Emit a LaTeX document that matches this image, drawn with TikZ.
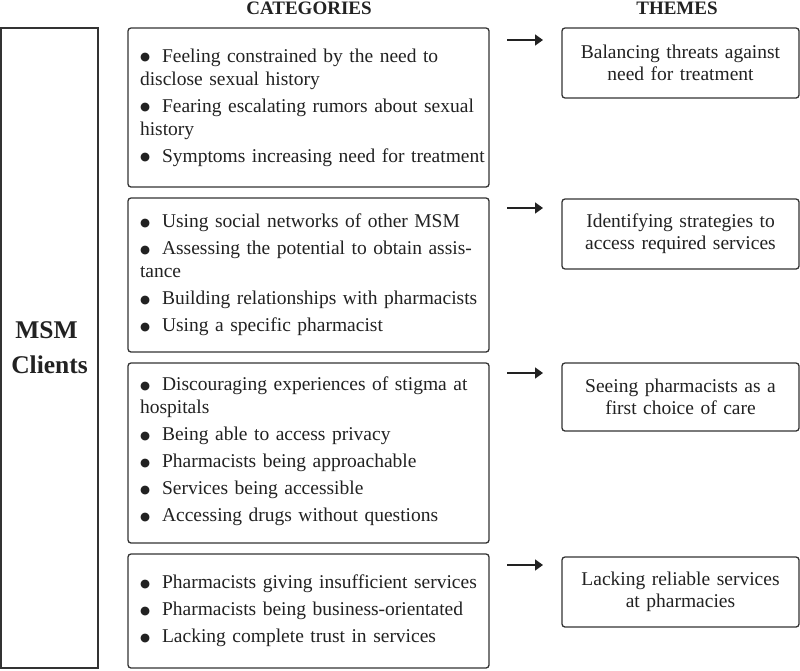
\documentclass[tikz,border=0pt]{standalone}
\usepackage{fontspec}
\setmainfont{Liberation Serif}
\newfontfamily\symfont{DejaVu Sans}
\usetikzlibrary{arrows.meta}
\definecolor{ink}{HTML}{222222}
\definecolor{boxgray}{HTML}{333333}
\newcommand{\itm}{\raisebox{1.2pt}{\symfont\fontsize{11.5}{11.5}\selectfont ●}\hspace{12pt}}
\hyphenpenalty=10000
\exhyphenpenalty=10000
\begin{document}
\begin{tikzpicture}[x=1pt,y=-1pt,
  box/.style={draw=boxgray,line width=1.3pt,rounded corners=3pt,inner sep=0pt,text=ink},
  catbox/.style={box,minimum width=361pt,text width=353pt,align=left,
    font=\fontsize{19.5}{23}\selectfont},
  themebox/.style={box,minimum width=237pt,text width=230pt,align=center,
    font=\fontsize{19.5}{22}\selectfont},
  header/.style={text=ink,font=\bfseries\fontsize{19}{22}\selectfont,inner sep=0pt,anchor=base},
  arr/.style={draw=ink,line width=1.5pt,-{Triangle[length=8pt,width=11pt]}}
]
\useasboundingbox (0,0) rectangle (800,670);
\fill[white] (0,0) rectangle (800,670);

\node[header] (hcat) at (309,14.5) {CATEGORIES};
\node[header] (hthm) at (677,14.5) {THEMES};

\node[box,rounded corners=0pt,minimum width=97pt,minimum height=640pt,align=center,
  font=\bfseries\fontsize{25.5}{35}\selectfont] (msm) at (49.5,348) {MSM\hspace*{6pt}\\Clients};

\node[catbox,minimum height=159pt] (c1) at (308.5,107.5) {\leftskip=8pt\relax
\itm Feeling constrained by the need to\\
disclose sexual history\\[4pt]
\itm Fearing escalating rumors about sexual\\
history\\[4pt]
\itm Symptoms increasing need for treatment\par};

\node[catbox,minimum height=154pt] (c2) at (308.5,275) {\leftskip=8pt\relax
\itm Using social networks of other MSM\\[4pt]
\itm Assessing the potential to obtain assis-\\
tance\\[4pt]
\itm Building relationships with pharmacists\\[4pt]
\itm Using a specific pharmacist\par};

\node[catbox,minimum height=180pt] (c3) at (308.5,453) {\leftskip=8pt\relax
\itm Discouraging experiences of stigma at\\
hospitals\\[4pt]
\itm Being able to access privacy\\[4pt]
\itm Pharmacists being approachable\\[4pt]
\itm Services being accessible\\[4pt]
\itm Accessing drugs without questions\par\vspace{4pt}};

\node[catbox,minimum height=114pt] (c4) at (308.5,611) {\leftskip=8pt\relax
\itm Pharmacists giving insufficient services\\[4pt]
\itm Pharmacists being business-orientated\\[4pt]
\itm Lacking complete trust in services\par};

\node[themebox,minimum height=70pt] (t1) at (680.5,63) {Balancing threats against\\need for treatment};
\node[themebox,minimum height=70pt] (t2) at (680.5,234) {Identifying strategies to\\access required services};
\node[themebox,minimum height=68pt] (t3) at (680.5,397) {Seeing pharmacists as a\\first choice of care};
\node[themebox,minimum height=70pt] (t4) at (680.5,592) {Lacking reliable services\\at pharmacies};

\coordinate (a1s) at (507,40);  \coordinate (a1e) at (543,40);
\coordinate (a2s) at (507,208); \coordinate (a2e) at (543,208);
\coordinate (a3s) at (507,373); \coordinate (a3e) at (543,373);
\coordinate (a4s) at (507,565); \coordinate (a4e) at (543,565);
\draw[arr] (a1s) -- (a1e);
\draw[arr] (a2s) -- (a2e);
\draw[arr] (a3s) -- (a3e);
\draw[arr] (a4s) -- (a4e);
\end{tikzpicture}
\end{document}
